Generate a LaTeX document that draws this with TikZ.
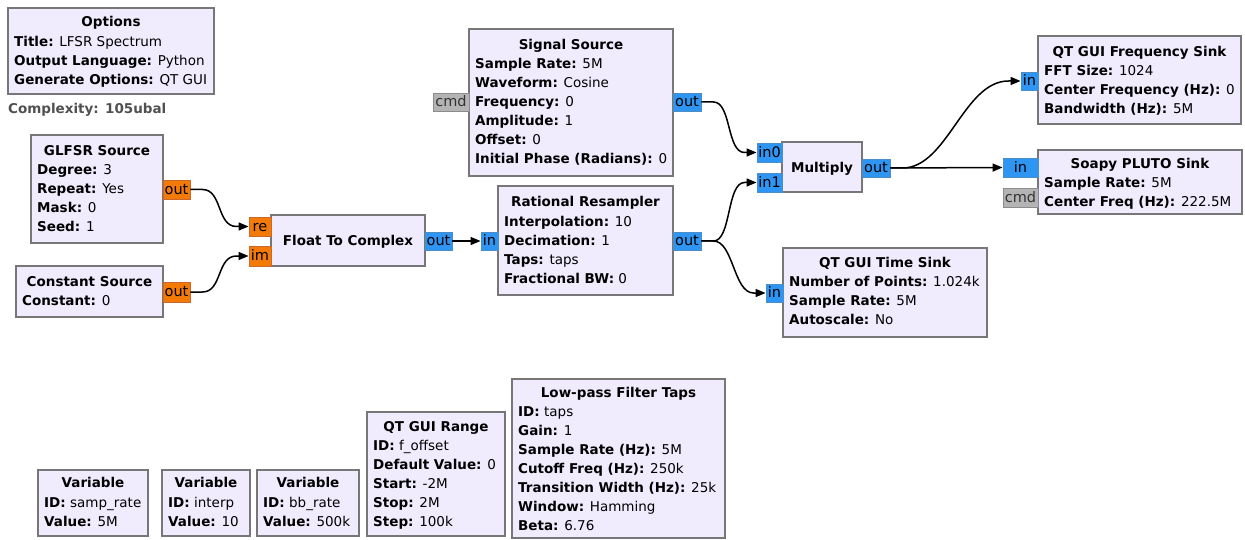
\documentclass[tikz,border=0pt]{standalone}
\usepackage{fontspec}
\setmainfont{DejaVu Sans}
\usetikzlibrary{arrows.meta}
\definecolor{blkfill}{HTML}{F0ECFE}
\definecolor{blkdraw}{HTML}{777777}
\definecolor{fltfill}{HTML}{F47A08}
\definecolor{fltdraw}{HTML}{C8682A}
\definecolor{cpxfill}{HTML}{2E95F2}
\definecolor{cpxdraw}{HTML}{4C8DC6}
\definecolor{msgfill}{HTML}{B4B4B4}
\definecolor{msgdraw}{HTML}{8C8C8C}
\definecolor{cplx}{HTML}{505050}
\tikzset{
  blk/.style={draw=blkdraw, fill=blkfill, line width=1.6pt, inner sep=0pt},
  txt/.style={inner sep=0pt, text height=9pt, text depth=0pt, font=\fontsize{13.5}{16}\selectfont},
  ptxt/.style={inner sep=0pt, text height=9.5pt, text depth=0pt, font=\fontsize{14.5}{16}\selectfont},
  ttl/.style={txt, font=\fontsize{13.5}{16}\selectfont\bfseries},
  pflt/.style={draw=fltdraw, fill=fltfill, line width=0.9pt},
  pcpx/.style={draw=cpxdraw, fill=cpxfill, line width=0.9pt},
  pmsg/.style={draw=msgdraw, fill=msgfill, line width=0.9pt, text=black!80},
  wire/.style={line width=1.5pt, -{Triangle[length=10pt,width=8pt]}},
}
\newcommand\grcblk[5]{%
  \node[blk, minimum width={#4-#2}, minimum height={#5-#3}] (#1) at ({(#2+#4)/2},{(#3+#5)/2}) {};}
\newcommand\grcttl[4]{\node[ttl] (#1-t) at (#2,#3) {#4};}
\newcommand\grclines[4]{%
  \foreach \t [count=\i] in {#4} {\node[txt, anchor=west] (#1-\i) at ({#2},{#3+19*(\i-1)}) {\t};}}
\newcommand\grcport[7]{%
  \node[#6, ptxt, minimum width={#4-#2}, minimum height={#5-#3}] (#1) at ({(#2+#4)/2},{(#3+#5)/2}) {#7};}
\newcommand\wirecurve[3]{%
  \draw[wire] (#1.east) -- ++(12,0) .. controls +(#3,0) and +(-#3,0) .. ([xshift=-12pt]#2.west) -- (#2.west);}
\begin{document}
\begin{tikzpicture}[x=1pt, y=-1pt]
\useasboundingbox (0,0) rectangle (1245,540);

% Options
\grcblk{opt}{8}{8}{214}{94}
\grcttl{opt}{111}{22}{Options}
\grclines{opt}{14}{42}{{\textbf{Title:} LFSR Spectrum},{\textbf{Output Language:} Python},{\textbf{Generate Options:} QT GUI}}
\node[ttl, anchor=west, text=cplx] (cplx) at (8,109) {Complexity: 105ubal};

% GLFSR Source
\grcblk{glfsr}{31}{135}{163}{243}
\grcttl{glfsr}{97}{151}{GLFSR Source}
\grclines{glfsr}{37}{170}{{\textbf{Degree:} 3},{\textbf{Repeat:} Yes},{\textbf{Mask:} 0},{\textbf{Seed:} 1}}
\grcport{glfsr-out}{163}{180}{190}{199}{pflt}{out}

% Constant Source
\grcblk{const}{16}{266}{163}{317}
\grcttl{const}{89.5}{282}{Constant Source}
\grclines{const}{22}{301}{{\textbf{Constant:} 0}}
\grcport{const-out}{163}{282}{190}{302}{pflt}{out}

% Float To Complex
\grcblk{f2c}{271}{215}{425}{266}
\grcttl{f2c}{348}{241}{Float To Complex}
\grcport{f2c-re}{249}{217}{271}{236}{pflt}{re}
\grcport{f2c-im}{249}{246}{271}{266}{pflt}{im}
\grcport{f2c-out}{425}{232}{452}{250}{pcpx}{out}

% Rational Resampler
\grcblk{rr}{498}{186}{673}{295}
\grcttl{rr}{585.5}{202}{Rational Resampler}
\grclines{rr}{504}{222}{{\textbf{Interpolation:} 10},{\textbf{Decimation:} 1},{\textbf{Taps:} taps},{\textbf{Fractional BW:} 0}}
\grcport{rr-in}{481}{232}{498}{250}{pcpx}{in}
\grcport{rr-out}{673}{232}{701}{250}{pcpx}{out}

% Signal Source
\grcblk{sig}{469}{29}{673}{176}
\grcttl{sig}{571}{45}{Signal Source}
\grclines{sig}{475}{64}{{\textbf{Sample Rate:} 5M},{\textbf{Waveform:} Cosine},{\textbf{Frequency:} 0},{\textbf{Amplitude:} 1},{\textbf{Offset:} 0},{\textbf{Initial Phase (Radians):} 0}}
\grcport{sig-cmd}{433}{93}{469}{111}{pmsg}{cmd}
\grcport{sig-out}{673}{93}{701}{111}{pcpx}{out}

% Multiply
\grcblk{mul}{782}{142}{862}{192}
\grcttl{mul}{822}{168}{Multiply}
\grcport{mul-in0}{757}{143}{782}{162}{pcpx}{in0}
\grcport{mul-in1}{757}{173}{782}{192}{pcpx}{in1}
\grcport{mul-out}{862}{159}{890}{177}{pcpx}{out}

% QT GUI Frequency Sink
\grcblk{fs}{1038}{36}{1241}{124}
\grcttl{fs}{1139.5}{52}{QT GUI Frequency Sink}
\grclines{fs}{1044}{71}{{\textbf{FFT Size:} 1024},{\textbf{Center Frequency (Hz):} 0},{\textbf{Bandwidth (Hz):} 5M}}
\grcport{fs-in}{1021}{72}{1038}{90}{pcpx}{in}

% Soapy PLUTO Sink
\grcblk{pluto}{1038}{150}{1242}{214}
\grcttl{pluto}{1140}{164}{Soapy PLUTO Sink}
\grclines{pluto}{1044}{183}{{\textbf{Sample Rate:} 5M},{\textbf{Center Freq (Hz):} 222.5M}}
\grcport{pluto-in}{1003}{158}{1038}{177}{pcpx}{in}
\grcport{pluto-cmd}{1003}{188}{1038}{207}{pmsg}{cmd}

% QT GUI Time Sink
\grcblk{ts}{783}{248}{987}{337}
\grcttl{ts}{885}{263}{QT GUI Time Sink}
\grclines{ts}{789}{282}{{\textbf{Number of Points:} 1.024k},{\textbf{Sample Rate:} 5M},{\textbf{Autoscale:} No}}
\grcport{ts-in}{766}{284}{783}{302}{pcpx}{in}

% Variables
\grcblk{v1}{38}{470}{148}{536}
\grcttl{v1}{93}{483}{Variable}
\grclines{v1}{44}{503}{{\textbf{ID:} samp\_rate},{\textbf{Value:} 5M}}
\grcblk{v2}{162}{470}{250}{536}
\grcttl{v2}{206}{483}{Variable}
\grclines{v2}{168}{503}{{\textbf{ID:} interp},{\textbf{Value:} 10}}
\grcblk{v3}{257}{470}{359}{536}
\grcttl{v3}{308}{483}{Variable}
\grclines{v3}{263}{503}{{\textbf{ID:} bb\_rate},{\textbf{Value:} 500k}}

% QT GUI Range
\grcblk{rng}{367}{412}{505}{536}
\grcttl{rng}{436}{427}{QT GUI Range}
\grclines{rng}{373}{446}{{\textbf{ID:} f\_offset},{\textbf{Default Value:} 0},{\textbf{Start:} -2M},{\textbf{Stop:} 2M},{\textbf{Step:} 100k}}

% Low-pass Filter Taps
\grcblk{lpf}{512}{379}{725}{538}
\grcttl{lpf}{618.5}{393}{Low-pass Filter Taps}
\grclines{lpf}{518}{412}{{\textbf{ID:} taps},{\textbf{Gain:} 1},{\textbf{Sample Rate (Hz):} 5M},{\textbf{Cutoff Freq (Hz):} 250k},{\textbf{Transition Width (Hz):} 25k},{\textbf{Window:} Hamming},{\textbf{Beta:} 6.76}}

% Connections
\wirecurve{glfsr-out}{f2c-re}{20}
\wirecurve{const-out}{f2c-im}{20}
\draw[wire] (f2c-out.east) -- (rr-in.west);
\wirecurve{sig-out}{mul-in0}{18}
\wirecurve{rr-out}{mul-in1}{18}
\wirecurve{rr-out}{ts-in}{20}
\wirecurve{mul-out}{fs-in}{45}
\draw[wire] (mul-out.east) -- (pluto-in.west);
\end{tikzpicture}
\end{document}
